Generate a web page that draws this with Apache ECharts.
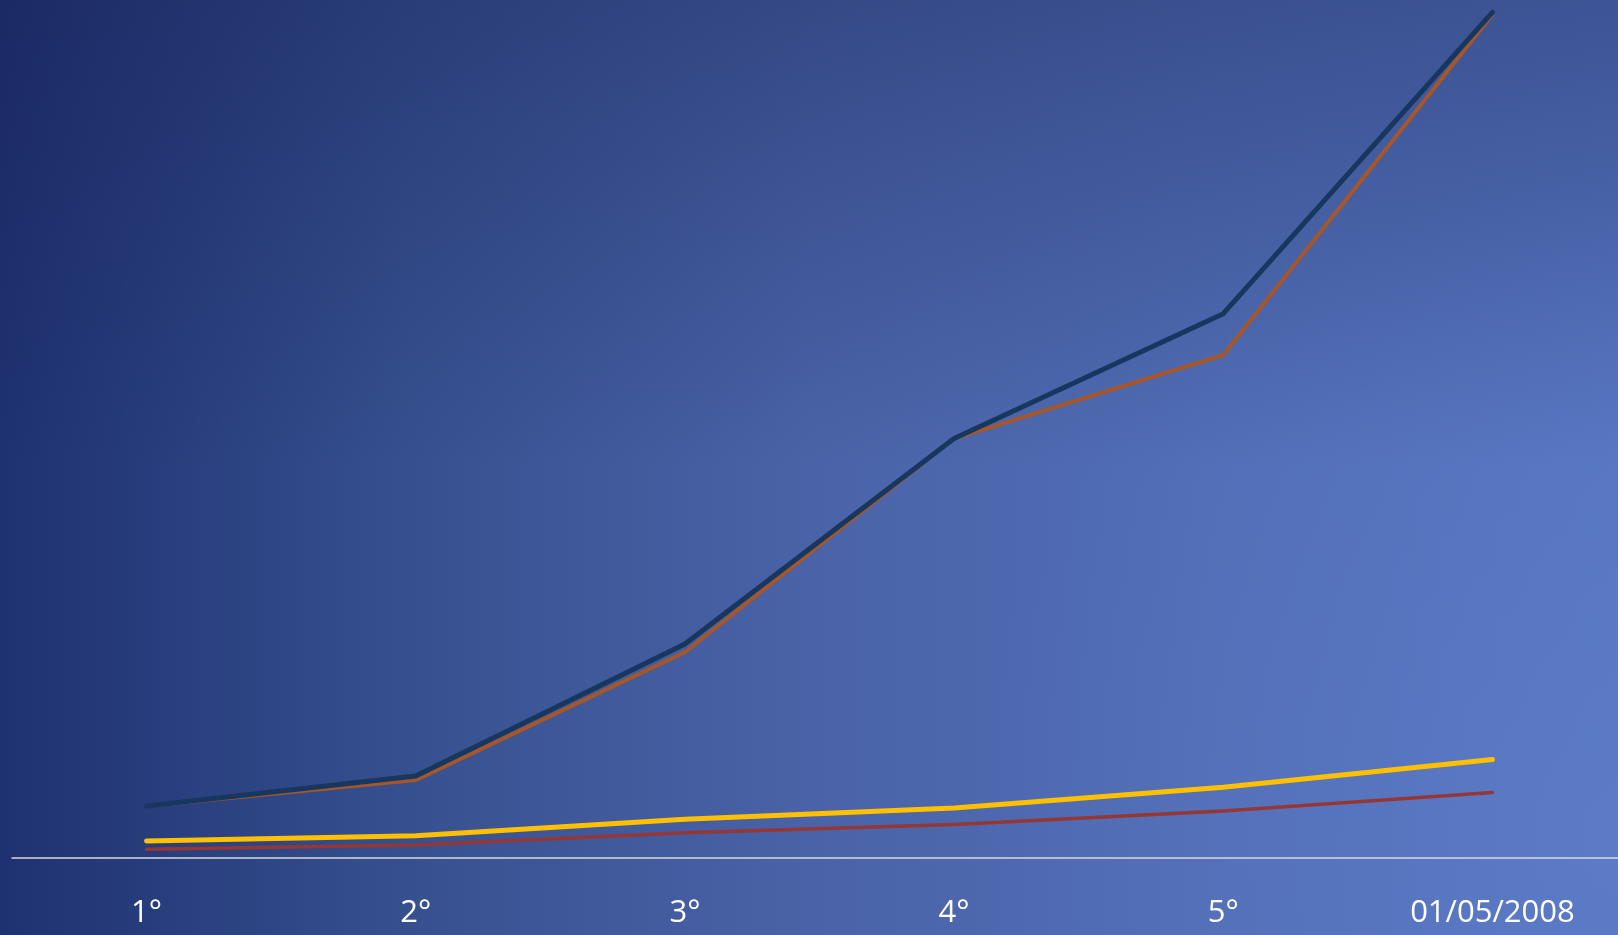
<!DOCTYPE html>
<html>
<head>
<meta charset="utf-8">
<script src="https://cdn.jsdelivr.net/npm/echarts@6/dist/echarts.min.js"></script>
<style>html,body{margin:0;padding:0;overflow:hidden}#c{width:1618px;height:935px}</style>
</head>
<body>
<div id="c"></div>
<script>
const categories = ['1°', '2°', '3°', '4°', '5°', '01/05/2008'];
const seriesNavy = [50, 79, 207, 406, 527, 819];
const seriesOrange = [50, 75, 199, 406, 487, 817];
const seriesYellow = [16, 21, 37, 48, 68, 95];
const seriesRed = [8, 12, 24, 32, 45, 63];

const chart = echarts.init(document.getElementById('c'));
function line(name, data, color, width, z) {
  return { name, type: 'line', data, symbol: 'none', z,
    lineStyle: { color, width, cap: 'round', join: 'round' } };
}
chart.setOption({
  animation: false,
  backgroundColor: new echarts.graphic.LinearGradient(0, 0, 1, 0, [
    { offset: 0, color: '#1f3171' },
    { offset: 0.25, color: '#36508f' },
    { offset: 0.5, color: '#4a63a8' },
    { offset: 0.75, color: '#516eb6' },
    { offset: 1, color: '#5675c0' }
  ]),
  graphic: [
    { type: 'rect', z: -2, silent: true, shape: { x: 0, y: 0, width: 1618, height: 935 },
      style: { fill: new echarts.graphic.LinearGradient(0, 0, 0, 1, [
        { offset: 0, color: 'rgba(20,30,80,0.38)' },
        { offset: 0.5, color: 'rgba(20,30,80,0)' },
        { offset: 1, color: 'rgba(20,30,80,0)' }
      ]) } },
    { type: 'rect', z: -1, silent: true, shape: { x: 0, y: 0, width: 1618, height: 935 },
      style: { fill: new echarts.graphic.RadialGradient(1, 0.9, 0.7, [
        { offset: 0, color: 'rgba(120,150,230,0.18)' },
        { offset: 1, color: 'rgba(120,150,230,0)' }
      ]) } }
  ],
  grid: { left: 12, width: 1615, top: 0, height: 857.5, containLabel: false, outerBoundsMode: 'none' },
  xAxis: {
    type: 'category', data: categories, boundaryGap: true,
    axisLine: { lineStyle: { color: '#d9d9d9', width: 1.5 } },
    axisTick: { show: false },
    axisLabel: { color: '#ffffff', fontSize: 31, fontFamily: 'Open Sans', margin: 40, interval: 0 }
  },
  yAxis: {
    type: 'value', min: 0, max: 831,
    axisLine: { show: false }, axisTick: { show: false }, axisLabel: { show: false },
    splitLine: { show: false }
  },
  series: [
    line('Orange', seriesOrange, '#a5562a', 4, 2),
    line('Navy', seriesNavy, '#17375e', 5, 3),
    line('Red', seriesRed, '#953735', 3.5, 2),
    line('Yellow', seriesYellow, '#ffc000', 5, 3)
  ]
});
</script>
</body>
</html>
